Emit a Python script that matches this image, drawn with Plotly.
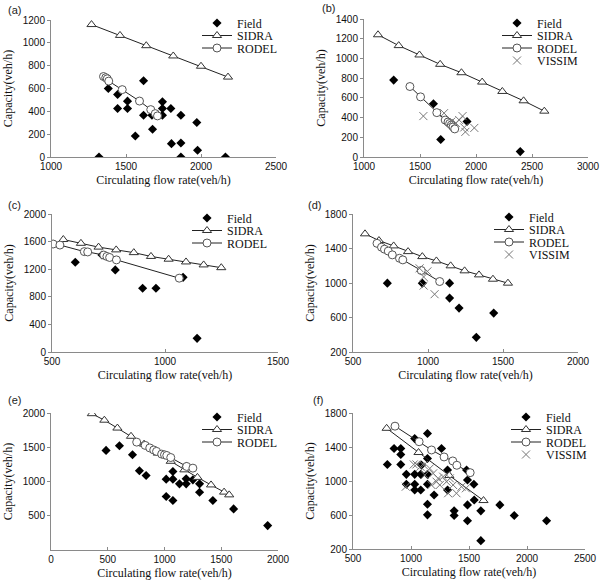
import plotly.graph_objects as go

# ---------------- data ----------------
# (a)
a_field_x = [1320, 1382, 1444, 1444, 1510, 1510, 1562, 1617, 1617, 1673, 1677, 1700, 1743, 1743, 1743, 1799, 1803, 1866, 1866, 1866, 1972, 1977, 2163]
a_field_y = [0, 600, 548, 425, 489, 425, 184, 668, 366, 366, 243, 366, 483, 425, 366, 425, 117, 366, 123, 0, 302, 59, 0]
a_sidra_x = [1270, 1460, 1635, 1815, 2000, 2180]
a_sidra_y = [1160, 1065, 975, 885, 795, 700]
a_rodel_x = [1350, 1365, 1375, 1385, 1475, 1590, 1665, 1695, 1710]
a_rodel_y = [705, 695, 685, 665, 590, 490, 415, 380, 360]

# (b)
b_field_x = [1265, 1620, 1685, 1745, 1760, 1775, 1920, 2395]
b_field_y = [780, 540, 178, 360, 345, 330, 360, 55]
b_sidra_x = [1125, 1310, 1495, 1680, 1870, 2055, 2235, 2425, 2610]
b_sidra_y = [1240, 1130, 1035, 940, 855, 760, 665, 570, 465]
b_rodel_x = [1410, 1505, 1650, 1725, 1750, 1765, 1780, 1795, 1810]
b_rodel_y = [715, 610, 450, 375, 355, 340, 325, 305, 285]
b_vissim_x = [1530, 1715, 1780, 1820, 1850, 1880, 1895, 1905, 1985]
b_vissim_y = [415, 445, 360, 345, 375, 415, 300, 255, 295]

# (c)
c_field_x = [603, 721, 780, 901, 960, 1080, 1142]
c_field_y = [1300, 1405, 1190, 923, 923, 1082, 198]
c_sidra_x = [550, 628, 706, 784, 862, 938, 1016, 1093, 1171, 1249]
c_sidra_y = [1630, 1575, 1520, 1480, 1440, 1385, 1345, 1305, 1262, 1222]
c_rodel_x = [505, 535, 643, 658, 729, 743, 755, 785, 1063]
c_rodel_y = [1565, 1550, 1455, 1450, 1405, 1385, 1370, 1335, 1070]

# (d)
d_field_x = [667, 729, 962, 1144, 1144, 1207, 1322, 1438]
d_field_y = [1472, 998, 998, 998, 825, 709, 370, 651]
d_sidra_x = [580, 673, 771, 867, 962, 1056, 1151, 1244, 1340, 1433, 1533]
d_sidra_y = [1570, 1492, 1430, 1364, 1306, 1256, 1199, 1141, 1094, 1044, 998]
d_rodel_x = [660, 690, 710, 735, 762, 810, 832, 955, 1078]
d_rodel_y = [1460, 1415, 1392, 1370, 1326, 1287, 1268, 1145, 1017]
d_vissim_x = [944, 971, 971, 996, 1044]
d_vissim_y = [1170, 1070, 970, 1135, 870]

# (e)
e_field_x = [485, 603, 718, 779, 838, 1015, 1015, 1074, 1074, 1074, 1132, 1191, 1191, 1191, 1250, 1309, 1309, 1426, 1609, 1909]
e_field_y = [1454, 1522, 1390, 1156, 1088, 1034, 780, 1146, 1034, 722, 966, 1220, 1039, 966, 1024, 966, 844, 722, 600, 356]
e_sidra_x = [360, 470, 585, 705, 820, 940, 1055, 1175, 1290, 1410, 1525, 1570]
e_sidra_y = [1990, 1895, 1780, 1660, 1545, 1415, 1295, 1170, 1060, 950, 845, 805]
e_rodel_x = [755, 830, 870, 905, 930, 975, 1000, 1020, 1055, 1195, 1250]
e_rodel_y = [1575, 1527, 1490, 1460, 1440, 1400, 1390, 1380, 1350, 1220, 1195]

# (f)
f_field_x = [796, 854, 912, 912, 912, 960, 960, 1032, 1032, 1032, 1032, 1084, 1084, 1090, 1142, 1142, 1142, 1142, 1142, 1142,
             1199, 1263, 1315, 1315, 1372, 1372, 1479, 1487, 1487, 1487, 1542, 1545, 1602, 1602, 1766, 1890, 2169]
f_field_y = [1195, 1382, 1382, 1312, 1195, 1078, 961, 1499, 1078, 961, 895, 1078, 895, 1187, 1558, 1265, 1078, 961, 727, 602,
             836, 1382, 1129, 895, 649, 594, 1129, 1012, 719, 532, 961, 777, 649, 298, 719, 594, 532]
f_sidra_x = [790, 1065, 1330, 1625]
f_sidra_y = [1620, 1335, 1065, 770]
f_rodel_x = [862, 1070, 1177, 1285, 1360, 1395, 1510]
f_rodel_y = [1645, 1462, 1365, 1283, 1236, 1185, 1098]
f_vissim_x = [955, 1024, 1047, 1081, 1110, 1162, 1191, 1220, 1248, 1277, 1306, 1335, 1363, 1392, 1435, 1473, 1176, 1234, 1119, 1320]
f_vissim_y = [933, 1195, 1195, 1168, 1187, 1148, 1090, 992, 953, 1051, 992, 1031, 953, 856, 933, 914, 953, 1031, 1070, 856]

panel_labels = ["(a)", "(b)", "(c)", "(d)", "(e)", "(f)"]
x_title = "Circulating flow rate(veh/h)"
y_title = "Capacity(veh/h)"

# ---------------- layout geometry (pixels of the 604x584 page) ----------------
W, H = 604, 584
boxes = [(51, 276, 20, 157), (364, 588, 19, 157),
         (52, 278, 214, 352), (353, 578, 214, 352),
         (51, 278, 413, 550), (353, 585, 413, 549)]
x_ranges = [(1000, 2500), (1000, 3000), (500, 1500), (500, 2000), (0, 2000), (500, 2500)]
y_ranges = [(0, 1200), (0, 1400), (0, 2000), (200, 1800), (0, 2000), (200, 1800)]
y_ticks = [list(range(0, 1201, 200)), list(range(0, 1401, 200)), list(range(0, 2001, 400)),
           list(range(200, 1801, 400)), list(range(500, 2001, 500)), list(range(200, 1801, 400))]
legend_pos = [(243, 23), (543, 23), (233, 218), (535, 217), (243, 417), (552, 417)]
legend_row = 12.5
label_pos = [(14, 10), (328, 8), (15, 205), (314, 205), (14, 400), (318, 400)]

panels = [
    dict(field=(a_field_x, a_field_y), sidra=(a_sidra_x, a_sidra_y), rodel=(a_rodel_x, a_rodel_y), vissim=None),
    dict(field=(b_field_x, b_field_y), sidra=(b_sidra_x, b_sidra_y), rodel=(b_rodel_x, b_rodel_y), vissim=(b_vissim_x, b_vissim_y)),
    dict(field=(c_field_x, c_field_y), sidra=(c_sidra_x, c_sidra_y), rodel=(c_rodel_x, c_rodel_y), vissim=None),
    dict(field=(d_field_x, d_field_y), sidra=(d_sidra_x, d_sidra_y), rodel=(d_rodel_x, d_rodel_y), vissim=(d_vissim_x, d_vissim_y)),
    dict(field=(e_field_x, e_field_y), sidra=(e_sidra_x, e_sidra_y), rodel=(e_rodel_x, e_rodel_y), vissim=None),
    dict(field=(f_field_x, f_field_y), sidra=(f_sidra_x, f_sidra_y), rodel=(f_rodel_x, f_rodel_y), vissim=(f_vissim_x, f_vissim_y)),
]

SERIF = "Liberation Serif"
SANS = "Liberation Sans"

fig = go.Figure()
layout = dict(width=W, height=H, margin=dict(l=0, r=0, t=0, b=0), showlegend=True,
              paper_bgcolor="white", plot_bgcolor="white", annotations=[])

legend_count = 0


def new_legend(lx, ly):
    """Create a one-entry legend positioned at a row of the panel legend."""
    global legend_count
    legend_count += 1
    lid = "legend" if legend_count == 1 else f"legend{legend_count}"
    layout[lid] = dict(x=(lx - 46) / W, y=1 - ly / H, xanchor="left", yanchor="middle",
                       bgcolor="rgba(0,0,0,0)", borderwidth=0, itemwidth=30, visible=True,
                       font=dict(family=SERIF, size=12, color="#111"), tracegroupgap=0)
    return lid


for i, p in enumerate(panels):
    n = i + 1
    xa = "x" if n == 1 else f"x{n}"
    ya = "y" if n == 1 else f"y{n}"
    lx, ly = legend_pos[i]

    fig.add_trace(go.Scatter(x=p["field"][0], y=p["field"][1], mode="markers", name="Field",
                             marker=dict(symbol="diamond", size=7, color="black"), showlegend=True,
                             xaxis=xa, yaxis=ya, legend=new_legend(lx, ly)))
    fig.add_trace(go.Scatter(x=p["sidra"][0], y=p["sidra"][1], mode="lines+markers", name="SIDRA",
                             line=dict(color="#222", width=1), showlegend=True,
                             marker=dict(symbol="triangle-up", size=8, color="white",
                                         line=dict(color="#333", width=1)),
                             xaxis=xa, yaxis=ya, legend=new_legend(lx, ly + legend_row)))
    fig.add_trace(go.Scatter(x=p["rodel"][0], y=p["rodel"][1], mode="lines+markers", name="RODEL",
                             line=dict(color="#222", width=1), showlegend=True,
                             marker=dict(symbol="circle", size=8, color="white",
                                         line=dict(color="#555", width=1)),
                             xaxis=xa, yaxis=ya, legend=new_legend(lx, ly + 2 * legend_row)))
    if p["vissim"] is not None:
        fig.add_trace(go.Scatter(x=p["vissim"][0], y=p["vissim"][1], mode="markers", name="VISSIM",
                                 marker=dict(symbol="x-thin-open", size=8, color="#777",
                                             line=dict(color="#777", width=1)), showlegend=True,
                                 xaxis=xa, yaxis=ya, legend=new_legend(lx, ly + 3 * legend_row)))

    xl, xr, yt, yb = boxes[i]
    xkey = "xaxis" if n == 1 else f"xaxis{n}"
    ykey = "yaxis" if n == 1 else f"yaxis{n}"
    layout[xkey] = dict(domain=[xl / W, xr / W], anchor=ya, range=list(x_ranges[i]),
                        dtick=500, tick0=0, showgrid=False, zeroline=False,
                        showline=True, linecolor="#8a8a8a", linewidth=1,
                        ticks="inside", ticklen=3, tickcolor="#8a8a8a",
                        tickfont=dict(family=SANS, size=10, color="#111"),
                        title=dict(text=x_title, font=dict(family=SERIF, size=12, color="#111"), standoff=4),
                        automargin=False)
    layout[ykey] = dict(domain=[1 - yb / H, 1 - yt / H], anchor=xa, range=list(y_ranges[i]),
                        tickmode="array", tickvals=y_ticks[i],
                        showgrid=False, zeroline=False,
                        showline=True, linecolor="#8a8a8a", linewidth=1,
                        ticks="outside", ticklen=3, tickcolor="#8a8a8a",
                        tickfont=dict(family=SANS, size=10, color="#111"),
                        title=dict(text=y_title, font=dict(family=SERIF, size=12, color="#111"), standoff=7),
                        automargin=False)
    px_, py_ = label_pos[i]
    layout["annotations"].append(dict(text=panel_labels[i], x=px_ / W, y=1 - py_ / H, xref="paper", yref="paper",
                                      showarrow=False, xanchor="center", yanchor="middle",
                                      font=dict(family=SANS, size=11, color="#222")))

fig.update_layout(**layout)
fig.write_html("out.html")
